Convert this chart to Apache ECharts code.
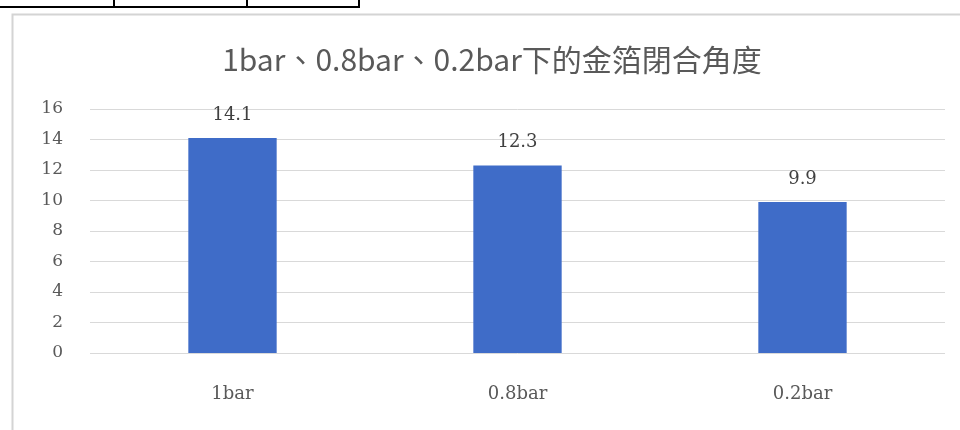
<!DOCTYPE html>
<html>
<head>
<meta charset="utf-8">
<style>
  html, body { margin: 0; padding: 0; background: #ffffff; }
  #chart { width: 960px; height: 430px; }
</style>
<script src="https://cdn.jsdelivr.net/npm/echarts@6/dist/echarts.min.js"></script>
</head>
<body>
<div id="chart"></div>
<script>
// Pressure levels and the measured closing angle of the gold foil
const categories = ['1bar', '0.8bar', '0.2bar'];
const angles = [14.1, 12.3, 9.9];
const titleText = '1bar、0.8bar、0.2bar下的金箔閉合角度';

const chart = echarts.init(document.getElementById('chart'), null, { renderer: 'canvas' });

const serif = '"DejaVu Serif", "Liberation Serif", serif';
const textGray = '#595959';

chart.setOption({
  animation: false,
  backgroundColor: '#ffffff',
  title: {
    text: titleText,
    left: 487,
    textAlign: 'center',
    top: 40,
    textStyle: {
      fontFamily: '"Noto Sans CJK TC", "Noto Sans", sans-serif',
      fontSize: 30,
      fontWeight: 'normal',
      color: textGray
    }
  },
  graphic: [
    // table fragment above the chart
    { type: 'polyline', shape: { points: [[0, 7], [359, 7], [359, 0]] }, style: { stroke: '#000', lineWidth: 2, fill: null } },
    { type: 'line', shape: { x1: 114, y1: 0, x2: 114, y2: 7 }, style: { stroke: '#000', lineWidth: 2 } },
    { type: 'line', shape: { x1: 247, y1: 0, x2: 247, y2: 7 }, style: { stroke: '#000', lineWidth: 2 } },
    // chart frame
    { type: 'rect', shape: { x: 12.5, y: 14.5, width: 960, height: 430 }, style: { stroke: '#d4d4d4', lineWidth: 2, fill: null } }
  ],
  grid: { left: 90, right: 15, top: 109, bottom: 77 },
  xAxis: {
    type: 'category',
    data: categories,
    axisLine: { show: false },
    axisTick: { show: false },
    axisLabel: { margin: 32, fontFamily: serif, fontSize: 18, color: textGray }
  },
  yAxis: {
    type: 'value',
    min: 0,
    max: 16,
    interval: 2,
    axisLine: { show: false },
    axisTick: { show: false },
    axisLabel: { margin: 27, fontFamily: serif, fontSize: 17, color: textGray },
    splitLine: { lineStyle: { color: '#d9d9d9', width: 1 } }
  },
  series: [{
    type: 'bar',
    data: angles,
    barWidth: '31%',
    itemStyle: { color: '#3F6CC8' },
    label: {
      show: true,
      position: 'top',
      distance: 14,
      fontFamily: serif,
      fontSize: 18,
      color: '#404040'
    }
  }]
});
</script>
</body>
</html>
